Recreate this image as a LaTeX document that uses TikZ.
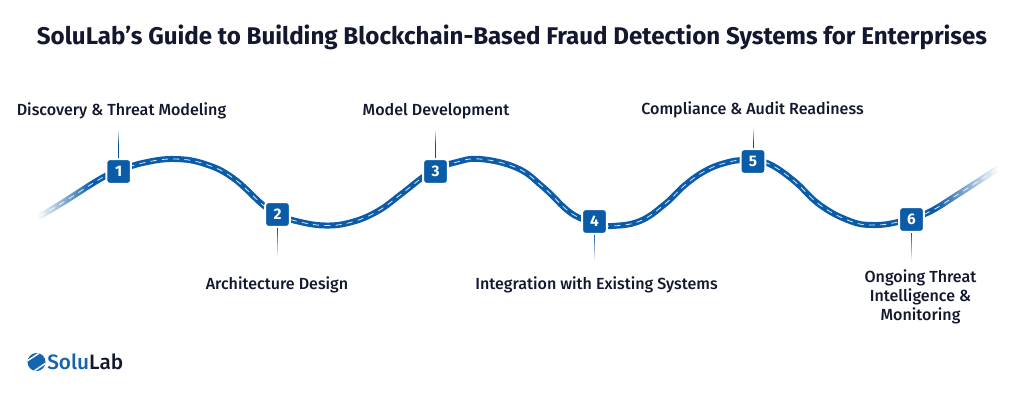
\documentclass[tikz,border=0pt]{standalone}
\usepackage{fontspec}
\setmainfont{Fira Sans}
\newfontfamily\medfont{Fira Sans Medium}
\usetikzlibrary{fadings,calc}
\definecolor{roadblue}{HTML}{0B5CA8}
\definecolor{ink}{HTML}{14182F}
\definecolor{logoblue}{HTML}{1464AE}
\tikzfading[name=fadeLeft, left color=transparent!0, right color=transparent!100]
\tikzfading[name=fadeRight, left color=transparent!100, right color=transparent!0]
\tikzfading[name=fadeTop, top color=transparent!0, bottom color=transparent!100]
\tikzfading[name=fadeBottom, top color=transparent!100, bottom color=transparent!0]
\tikzset{
  x=0.75pt,y=-0.75pt,
  badge/.style={fill=roadblue,draw=white,line width=1.5pt,rounded corners=2.2pt,minimum size=18.4pt,inner sep=0pt,text=white,font=\fontsize{11.5}{12}\selectfont\bfseries},
  steplabel/.style={text=ink,font=\fontsize{12.05}{14.3}\selectfont\medfont,align=center,inner sep=0pt},
  leader/.style={draw=roadblue!85!black,line width=0.65pt},
  roadbase/.style={draw=roadblue,line width=4.5pt},
  roaddash/.style={draw=white!85!roadblue,line width=0.6pt,dash pattern=on 4.5pt off 4pt},
}
\def\roadpath{plot[smooth,tension=0.7] coordinates {(30,222) (62,203) (100,179) (119,170.5) (145,162.5) (175,159) (205,164) (233,178) (263,205) (278,214.5) (296,221) (325,225.5) (352,222) (378,211) (400,195) (423,177) (436,169) (455,162.5) (480,159) (517,168) (543,187) (567,210) (582,219) (595,224) (612,226) (640,221) (665,204) (685,185) (705,171) (725,163) (745,160) (767,163) (793,180) (820,205) (850,221) (873,225) (898,222) (927,213) (960,193) (1003,165)}}
\begin{document}
\begin{tikzpicture}
\useasboundingbox (0,0) rectangle (1024,401);
\fill[white] (0,0) rectangle (1024,401);
\node[font=\fontsize{18.1}{22}\selectfont\bfseries,text=ink,inner sep=0pt] (title) at (512,37) {SoluLab’s Guide to Building Blockchain-Based Fraud Detection Systems for Enterprises};
% road
\draw[roadbase] \roadpath;
\draw[roaddash] \roadpath;
\fill[white] (15,150) rectangle (38,240);
\fill[white,path fading=fadeLeft] (37,150) rectangle (92,240);
\fill[white,path fading=fadeRight] (935,145) rectangle (998,225);
\fill[white] (997,145) rectangle (1015,225);
% step nodes
\node[badge] (b1) at (118.7,171.5) {1};
\node[badge] (b2) at (277.5,214.5) {2};
\node[badge] (b3) at (435.5,171.5) {3};
\node[badge] (b4) at (594.5,221.5) {4};
\node[badge] (b5) at (753,161.5) {5};
\node[badge] (b6) at (911.5,219.5) {6};
\coordinate (c1) at (118.7,130);
\coordinate (c2) at (277.5,256);
\coordinate (c3) at (435.5,130);
\coordinate (c4) at (594.5,260);
\coordinate (c5) at (753,128);
\coordinate (c6) at (911.5,260);
\draw[leader] (b1) -- (c1);
\draw[leader] (b2) -- (c2);
\draw[leader] (b3) -- (c3);
\draw[leader] (b4) -- (c4);
\draw[leader] (b5) -- (c5);
\draw[leader] (b6) -- (c6);
\foreach \cc in {c1,c3,c5}{\fill[white,path fading=fadeTop] ($(\cc)+(-3,-1)$) rectangle ($(\cc)+(3,14)$);}
\foreach \cc in {c2,c4,c6}{\fill[white,path fading=fadeBottom] ($(\cc)+(-3,-28)$) rectangle ($(\cc)+(3,1)$);}
% labels
\node[steplabel] (l1) at (121.5,111) {Discovery \& Threat Modeling};
\node[steplabel] (l2) at (277,285) {Architecture Design};
\node[steplabel] (l3) at (436,111) {Model Development};
\node[steplabel] (l4) at (596.5,285) {Integration with Existing Systems};
\node[steplabel] (l5) at (752.5,110) {Compliance \& Audit Readiness};
\node[steplabel] (l6) at (920.5,297) {Ongoing Threat\\Intelligence \&\\Monitoring};
% logo
\fill[logoblue] (36.5,362) circle[radius=9];
\begin{scope}
\clip (36.5,362) circle[radius=9];
\draw[white,line width=1.1pt] (24,363) -- (44,350);
\draw[white,line width=1.1pt] (28,375) -- (49,361);
\end{scope}
\node[anchor=west,inner sep=0pt,font=\fontsize{15.6}{18}\selectfont\medfont] (logo) at (47,362) {\textcolor{logoblue}{Solu}\textcolor{ink}{Lab}};
\end{tikzpicture}
\end{document}
